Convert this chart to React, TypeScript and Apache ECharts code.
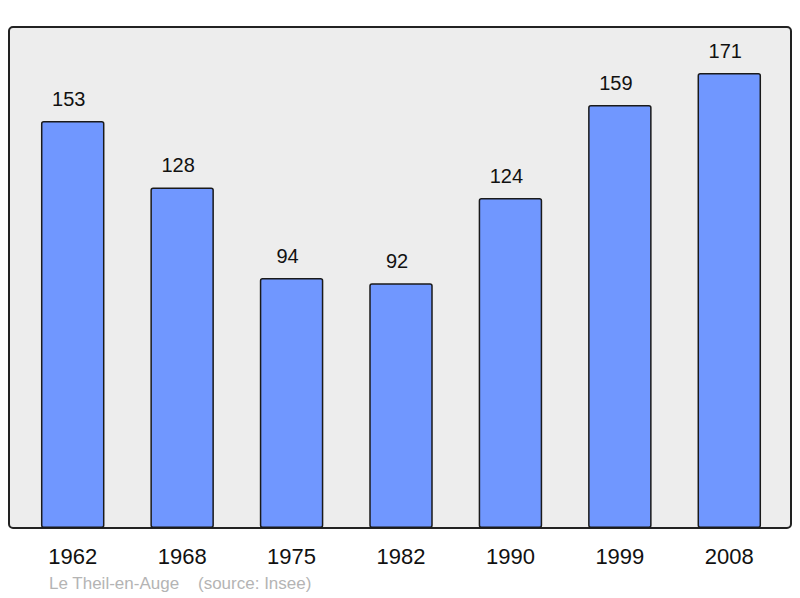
import React, { useEffect, useRef } from "react";
import * as echarts from "echarts";

const years = ["1962", "1968", "1975", "1982", "1990", "1999", "2008"];
const population = [153, 128, 94, 92, 124, 159, 171];
const footer = "Le Theil-en-Auge    (source: Insee)";

const FONT = "Liberation Sans, Arial, sans-serif";

export default function App() {
  const ref = useRef<HTMLDivElement>(null);
  useEffect(() => {
    if (!ref.current) return;
    const chart = echarts.init(ref.current, null, { renderer: "svg" });
    chart.setOption({
      animation: false,
      backgroundColor: "#ffffff",
      textStyle: { fontFamily: FONT },
      grid: { left: 18, width: 766, top: 27, height: 501 },
      graphic: [
        {
          type: "rect",
          z: -10,
          silent: true,
          shape: { x: 9, y: 27, width: 782, height: 501, r: 4 },
          style: { fill: "#ededed", stroke: "#222222", lineWidth: 2 },
        },
        {
          type: "text",
          left: 49,
          top: 575,
          silent: true,
          style: {
            text: footer,
            fill: "#b4b4b4",
            fontSize: 17,
            fontFamily: FONT,
          },
        },
      ],
      xAxis: {
        type: "category",
        data: years,
        axisLine: { show: false },
        axisTick: { show: false },
        axisLabel: {
          fontSize: 22,
          color: "#111111",
          margin: 17,
          fontFamily: FONT,
        },
      },
      yAxis: {
        type: "value",
        min: 0,
        max: 188.3,
        show: false,
        splitLine: { show: false },
      },
      series: [
        {
          type: "bar",
          data: population,
          barWidth: 63.5,
          itemStyle: {
            color: "#7097ff",
            borderColor: "#1a1a1a",
            borderWidth: 1.5,
            borderRadius: 2,
          },
          label: {
            show: true,
            position: "top",
            distance: 12,
            offset: [-4, 0],
            fontSize: 20,
            color: "#111111",
            fontFamily: FONT,
          },
        },
      ],
    });
    return () => chart.dispose();
  }, []);
  return (
    <div
      ref={ref}
      style={{ position: "absolute", left: 0, top: 0, width: 800, height: 598 }}
    />
  );
}
